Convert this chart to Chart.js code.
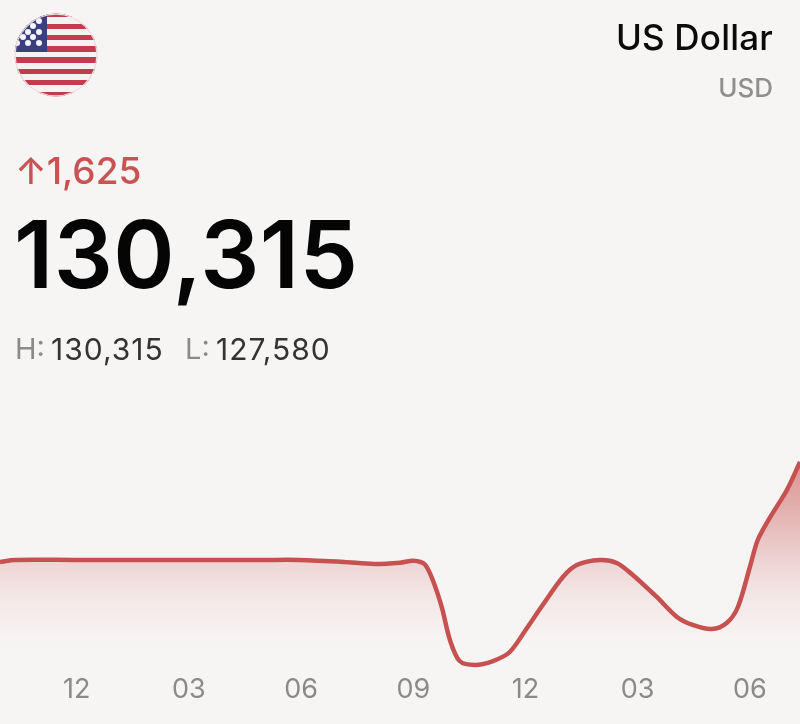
<!DOCTYPE html>
<html>
<head>
<meta charset="utf-8">
<script src="https://cdn.jsdelivr.net/npm/chart.js@4"></script>
<style>
  html, body { margin: 0; padding: 0; background: #f7f5f4; }
  #wrap { position: relative; width: 800px; height: 724px; overflow: hidden; font-family: Inter, sans-serif; }
  #wrap canvas { position: absolute; left: 0; top: 0; }
  .txt { position: absolute; white-space: nowrap; line-height: 1; }
  #flag { position: absolute; left: 14px; top: 13px; }
  #name { right: 27px; top: 20px; font-size: 35px; font-weight: 500; color: #0a0a0a; letter-spacing: 0.2px; }
  #code { right: 27px; top: 75px; font-size: 26px; font-weight: 500; color: #8f8f8f; }
  #change { left: 15px; top: 152px; font-size: 37px; font-weight: 500; color: #c75453; }
  #price { left: 14px; top: 208px; font-size: 93px; font-weight: 600; color: #050505; letter-spacing: 0.4px; }
  .hl { top: 334px; font-size: 30px; color: #333; letter-spacing: 1px; }
  .hl.key { font-size: 29px; color: #8a8a8a; letter-spacing: 0; }
</style>
</head>
<body>
<div id="wrap">
  <canvas id="chart" width="800" height="724"></canvas>
  <svg id="flag" width="84" height="84" viewBox="0 0 84 84">
    <defs><clipPath id="round"><circle cx="42" cy="42" r="41.5"/></clipPath></defs>
    <g clip-path="url(#round)">
      <rect width="84" height="84" fill="#f6f2f2"/>
      <g fill="#c23b4e">
        <rect y="0" width="84" height="4"/>
        <rect y="11" width="84" height="5"/>
        <rect y="22" width="84" height="5"/>
        <rect y="33" width="84" height="6"/>
        <rect y="44" width="84" height="6"/>
        <rect y="56" width="84" height="5"/>
        <rect y="67" width="84" height="5"/>
        <rect y="79" width="84" height="5"/>
      </g>
      <rect width="33" height="39" fill="#3b3f80"/>
      <g fill="#f4f4fa">
        <circle cx="25" cy="8" r="3"/>
        <circle cx="19" cy="13" r="3"/>
        <circle cx="14" cy="19" r="3"/>
        <circle cx="25" cy="19" r="3"/>
        <circle cx="9" cy="24" r="3"/>
        <circle cx="19" cy="24" r="3"/>
        <circle cx="3" cy="30" r="3"/>
        <circle cx="14" cy="30" r="3"/>
        <circle cx="25" cy="30" r="3"/>
      </g>
      <circle cx="42" cy="42" r="41" fill="none" stroke="#e9dcdc" stroke-width="1.5"/>
    </g>
  </svg>
  <div class="txt" id="name">US Dollar</div>
  <div class="txt" id="code">USD</div>
  <div class="txt" id="change">↑1,625</div>
  <div class="txt" id="price">130,315</div>
  <div class="txt hl key" style="left:15px">H:</div>
  <div class="txt hl" style="left:51px">130,315</div>
  <div class="txt hl key" style="left:185px">L:</div>
  <div class="txt hl" style="left:216px">127,580</div>
</div>
<script>
// hours from the first "12" tick
const hours = [-2.05, -1.65, -0.05, 1, 2, 3, 4, 5, 5.95, 7.15, 7.95, 8.65, 9, 9.3, 9.52, 9.76, 9.98, 10.24, 10.65, 11.13, 11.58, 12.04, 12.46, 13, 13.37, 13.99, 14.44, 14.87, 15.51, 16.05, 16.47, 16.98, 17.38, 17.68, 18, 18.21, 18.53, 18.99, 19.34];
const rates = [128947, 128974, 128974, 128974, 128974, 128974, 128974, 128974, 128974, 128947, 128920, 128938, 128965, 128920, 128706, 128344, 127902, 127620, 127567, 127620, 127741, 128063, 128371, 128746, 128907, 128974, 128934, 128773, 128478, 128210, 128103, 128049, 128130, 128344, 128880, 129242, 129537, 129912, 130287];
const tickHours = [0, 3, 6, 9, 12, 15, 18];
const tickLabels = ["12", "03", "06", "09", "12", "03", "06"];

const lineColor = "#c75050";
const ctx = document.getElementById("chart").getContext("2d");

const grad = ctx.createLinearGradient(0, 460, 0, 645);
grad.addColorStop(0, "rgba(199,80,80,0.6)");
grad.addColorStop(0.22, "rgba(199,80,80,0.45)");
grad.addColorStop(0.57, "rgba(199,80,80,0.18)");
grad.addColorStop(0.76, "rgba(199,80,80,0.07)");
grad.addColorStop(1, "rgba(199,80,80,0)");

new Chart(ctx, {
  type: "line",
  data: {
    datasets: [
      {
        data: hours.map((h, i) => ({ x: h, y: rates[i] })),
        borderColor: lineColor,
        borderWidth: 4.5,
        backgroundColor: grad,
        fill: "start",
        pointRadius: 0,
        tension: 0.3,
      },
    ],
  },
  options: {
    responsive: false,
    animation: false,
    layout: { padding: 0 },
    plugins: { legend: { display: false }, tooltip: { enabled: false } },
    scales: {
      x: {
        type: "linear",
        min: -2.05,
        max: 19.34,
        afterBuildTicks: (axis) => {
          axis.ticks = tickHours.map((v) => ({ value: v }));
        },
        afterFit: (axis) => {
          axis.height = 52;
        },
        border: { display: false },
        grid: { display: false, drawTicks: false },
        ticks: {
          padding: 2,
          maxRotation: 0,
          autoSkip: false,
          color: "#8a8a8a",
          font: { family: "Inter", size: 27 },
          callback: (v) => tickLabels[tickHours.indexOf(v)],
        },
      },
      y: {
        display: false,
        min: 127473,
        max: 136477,
      },
    },
  },
});
</script>
</body>
</html>
